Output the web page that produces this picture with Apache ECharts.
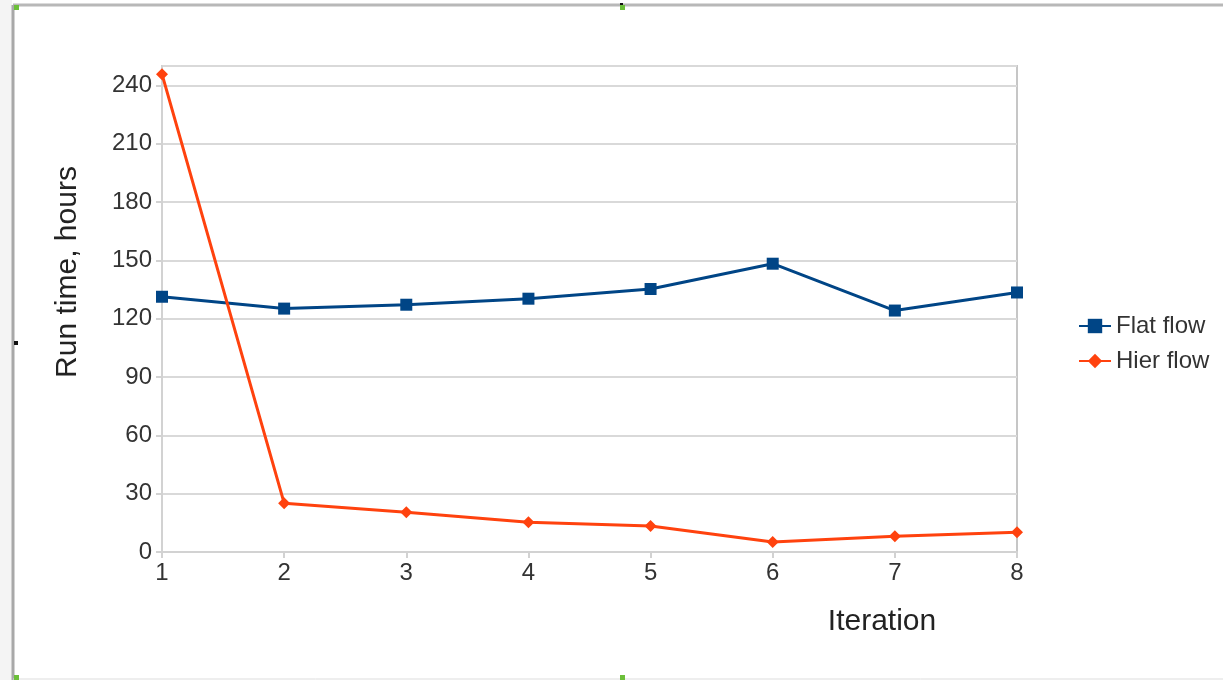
<!DOCTYPE html>
<html>
<head>
<meta charset="utf-8">
<script src="https://cdn.jsdelivr.net/npm/echarts@6/dist/echarts.min.js"></script>
<style>
html,body{margin:0;padding:0;background:#fff;}
#chart{width:1223px;height:680px;}
</style>
</head>
<body>
<div id="chart"></div>
<script>
const iterations = [1, 2, 3, 4, 5, 6, 7, 8];
const flatFlow = [131.3, 125.2, 127.2, 130.3, 135.3, 148.3, 124.2, 133.5];
const hierFlow = [245.8, 25.1, 20.4, 15.3, 13.4, 5.1, 8.1, 10.2];
const seriesNames = ['Flat flow', 'Hier flow'];
const yTickInterval = 30;
const yMax = 250;
const xTitle = 'Iteration';
const yTitle = 'Run time, hours';

const FONT = '"Liberation Sans", Arial, sans-serif';
const pairs = (vals) => iterations.map((x, i) => [x, vals[i]]);

const chart = echarts.init(document.getElementById('chart'), null, {renderer: 'canvas'});
chart.setOption({
  animation: false,
  backgroundColor: '#ffffff',
  grid: {
    left: 162, right: 206, top: 66, bottom: 128,
    show: true, borderColor: '#c6c6c6', borderWidth: 2, backgroundColor: 'transparent'
  },
  legend: {
    orient: 'vertical',
    left: 1073, top: 309,
    itemWidth: 32, itemHeight: 18, itemGap: 11,
    textStyle: {fontFamily: FONT, fontSize: 24, color: '#333333', lineHeight: 24},
    data: seriesNames
  },
  xAxis: {
    type: 'value', min: 1, max: 8, interval: 1,
    name: xTitle, nameLocation: 'middle', nameGap: 55,
    nameTextStyle: {fontFamily: FONT, fontSize: 30, color: '#222222', padding: [0, 0, 0, 585]},
    axisLine: {show: true, onZero: false, lineStyle: {color: '#d2d2d2', width: 2}},
    axisTick: {show: true, length: 6, lineStyle: {color: '#d2d2d2', width: 2}},
    axisLabel: {fontFamily: FONT, fontSize: 24, color: '#333333', margin: 9},
    splitLine: {show: false}
  },
  yAxis: {
    type: 'value', min: 0, max: yMax, interval: yTickInterval,
    name: yTitle, nameLocation: 'middle', nameGap: 79,
    nameTextStyle: {fontFamily: FONT, fontSize: 30, color: '#222222', padding: [0, 0, 0, 74]},
    axisLine: {show: true, lineStyle: {color: '#d2d2d2', width: 2}},
    axisTick: {show: true, length: 6, lineStyle: {color: '#d2d2d2', width: 2}},
    axisLabel: {fontFamily: FONT, fontSize: 24, color: '#333333', margin: 10, showMaxLabel: false},
    splitLine: {show: true, lineStyle: {color: '#d9d9d9', width: 2}}
  },
  series: [
    {
      name: seriesNames[0], type: 'line', data: pairs(flatFlow),
      symbol: 'rect', symbolSize: 12,
      lineStyle: {color: '#004586', width: 3},
      itemStyle: {color: '#004586'}
    },
    {
      name: seriesNames[1], type: 'line', data: pairs(hierFlow),
      symbol: 'diamond', symbolSize: 12,
      lineStyle: {color: '#ff420e', width: 3},
      itemStyle: {color: '#ff420e'}
    }
  ],
  graphic: [
    {type: 'rect', shape: {x: 0, y: 0, width: 12, height: 680}, style: {fill: '#f4f4f4'}, silent: true},
    {type: 'line', shape: {x1: 13, y1: 5, x2: 1223, y2: 5}, style: {stroke: '#b8b8b8', lineWidth: 3}, silent: true},
    {type: 'line', shape: {x1: 13, y1: 5, x2: 13, y2: 680}, style: {stroke: '#a8a8a8', lineWidth: 3}, silent: true},
    {type: 'line', shape: {x1: 13, y1: 679, x2: 1223, y2: 679}, style: {stroke: '#dddddd', lineWidth: 1}, silent: true},
    {type: 'rect', shape: {x: 14, y: 5, width: 5, height: 5}, style: {fill: '#6cbf3a'}, silent: true},
    {type: 'rect', shape: {x: 620, y: 5, width: 5, height: 5}, style: {fill: '#6cbf3a'}, silent: true},
    {type: 'rect', shape: {x: 620, y: 3, width: 3, height: 2}, style: {fill: '#111111'}, silent: true},
    {type: 'rect', shape: {x: 14, y: 341, width: 4, height: 4}, style: {fill: '#111111'}, silent: true},
    {type: 'rect', shape: {x: 14, y: 675, width: 5, height: 5}, style: {fill: '#6cbf3a'}, silent: true},
    {type: 'rect', shape: {x: 620, y: 675, width: 5, height: 5}, style: {fill: '#6cbf3a'}, silent: true}
  ]
});
</script>
</body>
</html>
